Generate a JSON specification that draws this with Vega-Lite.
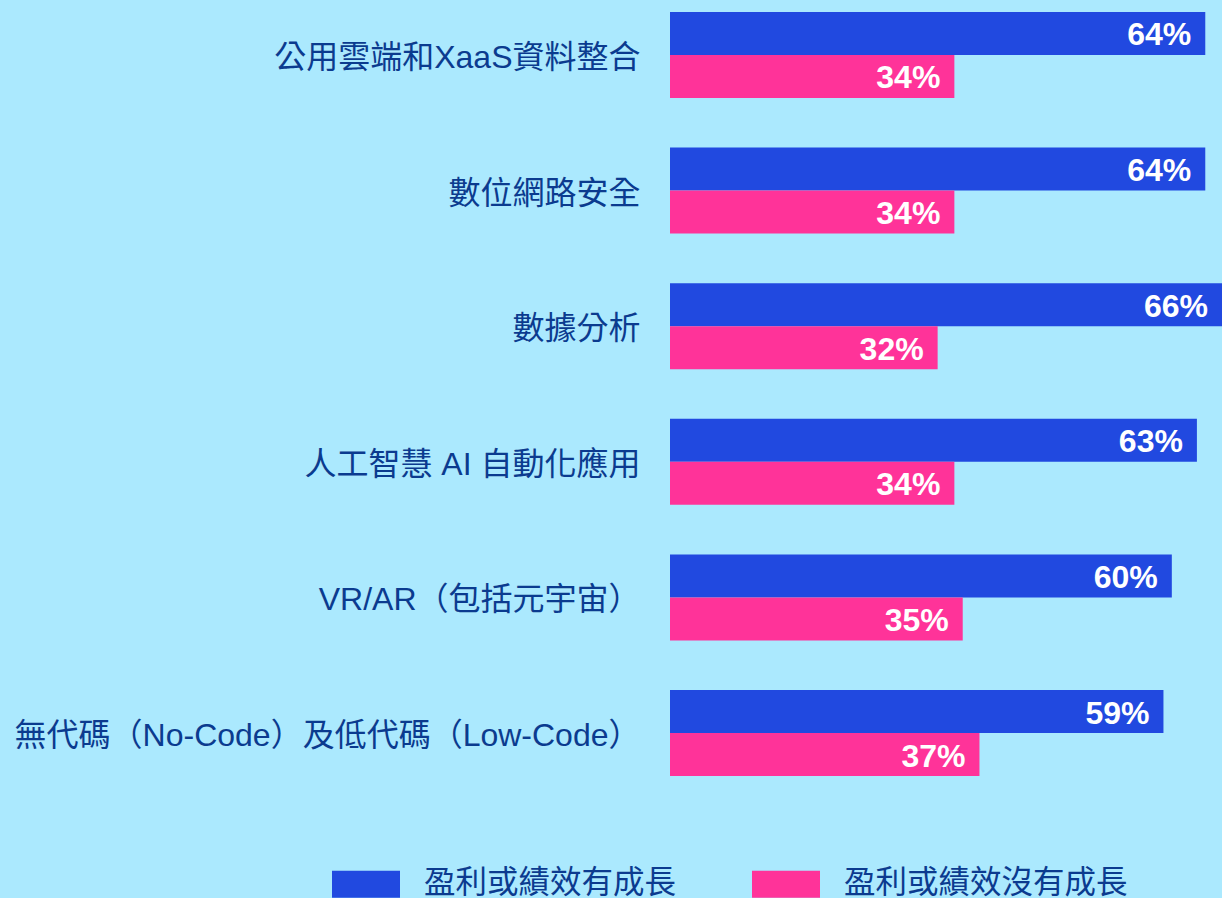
{
  "$schema": "https://vega.github.io/schema/vega-lite/v6.json",
  "width": 552,
  "height": 788,
  "autosize": "none",
  "padding": {"left": 670, "top": 0, "right": 0, "bottom": 110},
  "background": "#ABE9FE",
  "config": {"view": {"stroke": null}, "font": "Liberation Sans"},
  "data": {"values": [
    {"category": "公用雲端和XaaS資料整合", "series": "盈利或績效有成長", "value": 0.64},
    {"category": "公用雲端和XaaS資料整合", "series": "盈利或績效沒有成長", "value": 0.34},
    {"category": "數位網路安全", "series": "盈利或績效有成長", "value": 0.64},
    {"category": "數位網路安全", "series": "盈利或績效沒有成長", "value": 0.34},
    {"category": "數據分析", "series": "盈利或績效有成長", "value": 0.66},
    {"category": "數據分析", "series": "盈利或績效沒有成長", "value": 0.32},
    {"category": "人工智慧 AI 自動化應用", "series": "盈利或績效有成長", "value": 0.63},
    {"category": "人工智慧 AI 自動化應用", "series": "盈利或績效沒有成長", "value": 0.34},
    {"category": "VR/AR（包括元宇宙）", "series": "盈利或績效有成長", "value": 0.60},
    {"category": "VR/AR（包括元宇宙）", "series": "盈利或績效沒有成長", "value": 0.35},
    {"category": "無代碼（No-Code）及低代碼（Low-Code）", "series": "盈利或績效有成長", "value": 0.59},
    {"category": "無代碼（No-Code）及低代碼（Low-Code）", "series": "盈利或績效沒有成長", "value": 0.37}
  ]},
  "encoding": {
    "y": {
      "field": "category", "type": "nominal", "sort": null,
      "scale": {"paddingInner": 0.366, "paddingOuter": 0.0885},
      "axis": {"title": null, "domain": false, "ticks": false, "labelPadding": 30, "labelOffset": 3, "labelFontSize": 32, "labelColor": "#0B3B8F", "labelFont": "Liberation Sans, Noto Sans CJK TC", "labelLimit": 0}
    },
    "yOffset": {"field": "series", "type": "nominal", "sort": ["盈利或績效有成長", "盈利或績效沒有成長"], "scale": {"paddingInner": 0, "paddingOuter": 0}},
    "x": {"field": "value", "type": "quantitative", "scale": {"domain": [0, 0.66], "nice": false, "zero": true}, "axis": null}
  },
  "layer": [
    {
      "mark": {"type": "bar"},
      "encoding": {
        "color": {
          "field": "series", "type": "nominal", "sort": ["盈利或績效有成長", "盈利或績效沒有成長"],
          "scale": {"domain": ["盈利或績效有成長", "盈利或績效沒有成長"], "range": ["#2149E0", "#FF3399"]},
          "legend": {"title": null, "orient": "none", "legendX": -338, "legendY": 850, "direction": "horizontal",
            "symbolType": "M-1,-0.4H1V0.4H-1Z", "symbolSize": 4624, "symbolStrokeWidth": 0, "symbolOpacity": 1,
            "labelFontSize": 31.5, "labelColor": "#0B3B8F", "labelFont": "Noto Sans CJK TC", "labelOffset": 24,
            "columnPadding": 75, "padding": 0, "labelLimit": 0}
        }
      }
    },
    {
      "mark": {"type": "text", "align": "right", "baseline": "middle", "dx": -14, "dy": 2, "fontSize": 32, "fontWeight": "bold", "color": "white", "font": "Liberation Sans"},
      "encoding": {"text": {"field": "value", "type": "quantitative", "format": ".0%"}}
    }
  ]
}
